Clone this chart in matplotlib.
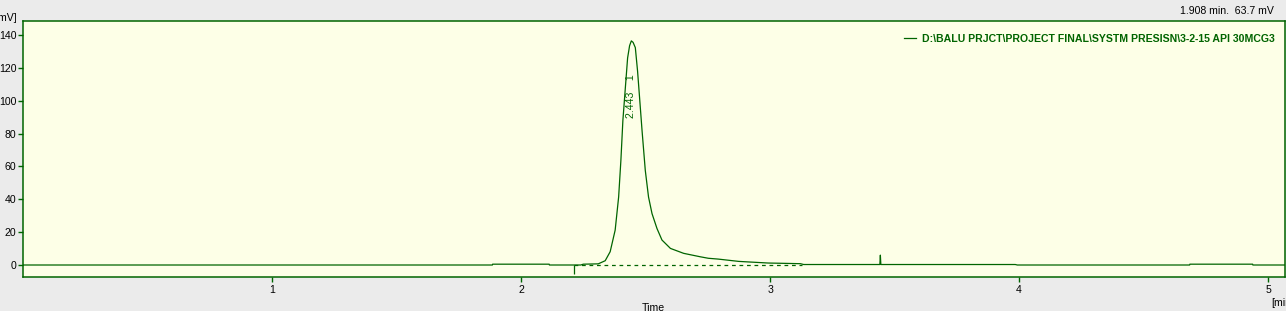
"""
Chromatogram trace (3-2-15 API 30MCG3) redrawn with matplotlib.
"""

import matplotlib

matplotlib.use("Agg")
import matplotlib.pyplot as plt

plt.rcParams["font.family"] = ["Liberation Sans", "DejaVu Sans"]

GREEN = "#006400"
FACE = "#FDFFE7"
BACK = "#EBEBEB"

# signal (time in min, response in mV)
time_min = [
    0.0, 1.885, 1.886, 2.113, 2.114, 2.24, 2.25, 2.31, 2.338, 2.358,
    2.378, 2.392, 2.401, 2.409, 2.419, 2.428, 2.436, 2.443, 2.450, 2.459,
    2.468, 2.476, 2.486, 2.499, 2.512, 2.526, 2.546, 2.566, 2.600, 2.653,
    2.720, 2.752, 2.792, 2.827, 2.874, 2.921, 2.993, 3.060, 3.122, 3.135,
    3.441, 3.443, 3.445, 3.985, 3.993, 4.685, 4.686, 4.938, 4.939, 5.07,
]
signal_mv = [
    0.0, 0.0, 0.5, 0.5, 0.0, 0.0, 0.5, 0.7, 2.6, 8.1,
    21.2, 41.4, 63.6, 87.9, 108.0, 126.0, 133.5, 136.4, 135.5, 132.3,
    118.0, 102.0, 81.8, 57.6, 41.4, 31.3, 22.2, 15.2, 10.1, 7.1,
    5.0, 4.1, 3.6, 3.0, 2.2, 1.8, 1.2, 1.0, 0.8, 0.3,
    0.3, 6.0, 0.3, 0.3, 0.0, 0.0, 0.5, 0.5, 0.0, 0.0,
]

# integration: peak start marker and dashed baseline
peak_start = 2.214
peak_end = 3.13
peak_time = 2.443
peak_number = 1
marker_depth = -5.5

x_ticks = [1, 2, 3, 4, 5]
y_ticks = [0, 20, 40, 60, 80, 100, 120, 140]

trace_name = r"D:\BALU PRJCT\PROJECT FINAL\SYSTM PRESISN\3-2-15 API 30MCG3"
cursor_text = "1.908 min.  63.7 mV"

W, H = 1286, 311
fig = plt.figure(figsize=(W / 100, H / 100), dpi=100, facecolor=BACK)
ax = fig.add_axes([23 / W, 34 / H, 1262 / W, 256 / H], facecolor=FACE)

ax.plot(time_min, signal_mv, color=GREEN, lw=0.9, label=trace_name)
ax.plot([peak_start, peak_end], [0, 0], color=GREEN, lw=0.9, ls=(0, (3, 3)))
ax.vlines(peak_start, marker_depth, 0, color=GREEN, lw=0.9)

ax.text(peak_time - 0.002, 103, f"{peak_time:.3f}    {peak_number}",
        rotation=90, ha="center", va="center", color=GREEN, fontsize=7.6)

ax.set_xlim(0, 5.068)
ax.set_ylim(-7.3, 148.5)
ax.set_xticks(x_ticks)
ax.set_yticks(y_ticks)
ax.tick_params(direction="out", length=3.6, width=1.0, color=GREEN,
               labelsize=7.6, labelcolor="black")
ax.tick_params(axis="y", pad=1.0)
ax.tick_params(axis="x", pad=2.0)
for sp in ax.spines.values():
    sp.set_color(GREEN)
    sp.set_linewidth(1.1)

leg = ax.legend(loc="center right", bbox_to_anchor=(0.9915, 0.93),
                frameon=False, borderpad=0, borderaxespad=0,
                handlelength=1.2, handletextpad=0.5,
                prop={"size": 7.6, "weight": "bold"}, labelcolor=GREEN)

fig.text(1274 / W, 1 - 11 / H, cursor_text, ha="right", va="center",
         fontsize=7.6, color="black")
fig.text(17 / W, 1 - 18 / H, "[mV]", ha="right", va="center",
         fontsize=7.6, color="black")
fig.text(653 / W, 1 - 303 / H, "Time", ha="center", va="top",
         fontsize=7.6, color="black")
fig.text(1271 / W, 1 - 298 / H, "[min]", ha="left", va="top",
         fontsize=7.6, color="black")

fig.savefig("out.png", dpi=100, facecolor=BACK)
